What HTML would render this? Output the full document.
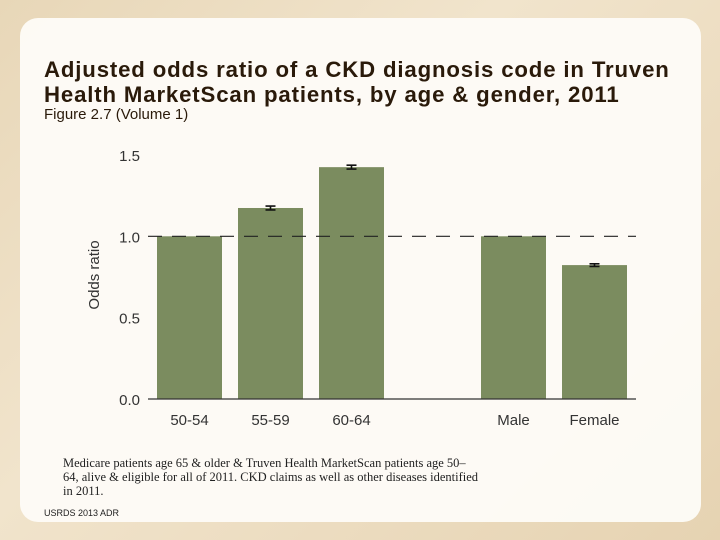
<!DOCTYPE html>
<html><head><meta charset="utf-8"><style>
body{margin:0;width:720px;height:540px;overflow:hidden;background:linear-gradient(135deg,#e8d7b8,#f1e4cc 40%,#e6d3b2);font-family:"Liberation Sans",sans-serif;}
#panel{position:absolute;left:20px;top:18px;width:681px;height:504px;background:rgba(253,251,247,0.96);border-radius:18px;}
.t{position:absolute;left:44px;color:#2a1a0a;}
</style></head><body>
<div id="panel"></div>
<div class="t" style="top:57px;font-size:22.2px;font-weight:bold;line-height:25px;letter-spacing:0.85px;white-space:nowrap;">Adjusted odds ratio of a CKD diagnosis code in Truven<br>Health MarketScan patients, by age &amp; gender, 2011</div>
<div class="t" style="top:106px;font-size:15px;">Figure 2.7 (Volume 1)</div>
<svg id="chart" width="720" height="540" style="position:absolute;left:0;top:0"></svg>
<div style="position:absolute;left:63px;top:456px;width:420px;font-family:'Liberation Serif',serif;font-size:12.5px;line-height:14px;color:#222;">Medicare patients age 65 &amp; older &amp; Truven Health MarketScan patients age 50–<br>64, alive &amp; eligible for all of 2011. CKD claims as well as other diseases identified in 2011.</div>
<div style="position:absolute;left:44px;top:508px;font-size:9px;color:#222;">USRDS 2013 ADR</div>
<script>
const categories=["50-54","55-59","60-64","Male","Female"];
const values=[1.0,1.174,1.425,1.0,0.823];
const errors=[0,0.012,0.012,0,0.008];
const ticks=[0,0.5,1.0,1.5];
const tickLabels=["0.0","0.5","1.0","1.5"];
const svg=document.getElementById('chart');const NS='http://www.w3.org/2000/svg';
const y=v=>399-v*162.7;
const slot=[157,238,319,481,562];const bw=65;
function mk(t,a,txt){const e=document.createElementNS(NS,t);for(const k in a)e.setAttribute(k,a[k]);if(txt!=null)e.textContent=txt;svg.appendChild(e);return e;}
ticks.forEach((v,i)=>{const e=mk('text',{x:140,y:y(v)+6,'text-anchor':'end','font-size':15,fill:'#333','font-family':'Liberation Sans, sans-serif'},tickLabels[i]);

});
const yt=mk('text',{x:0,y:0,transform:'translate(99,275) rotate(-90)','text-anchor':'middle','font-size':15,fill:'#333','font-family':'Liberation Sans, sans-serif'},'Odds ratio');


categories.forEach((c,i)=>{const x=slot[i];
const r=mk('rect',{x:x,y:y(values[i]),width:bw,height:y(0)-y(values[i]),fill:'#7b8c5f'});


if(errors[i]>0){const cx=x+bw/2,t=y(values[i]+errors[i]),b=y(values[i]-errors[i]);
const g=mk('path',{d:`M${cx-5},${t}H${cx+5}M${cx},${t}V${b}M${cx-5},${b}H${cx+5}`,stroke:'#111','stroke-width':1.6,fill:'none'});

}
const l=mk('text',{x:x+bw/2,y:425,'text-anchor':'middle','font-size':15,fill:'#333','font-family':'Liberation Sans, sans-serif'},c);

});
const ax=mk('line',{x1:148,x2:636,y1:y(0),y2:y(0),stroke:'#333','stroke-width':1.2});


const rl=mk('line',{x1:148,x2:636,y1:y(1),y2:y(1),stroke:'#222','stroke-width':1.2,'stroke-dasharray':'14,10'});


</script>
</body></html>
